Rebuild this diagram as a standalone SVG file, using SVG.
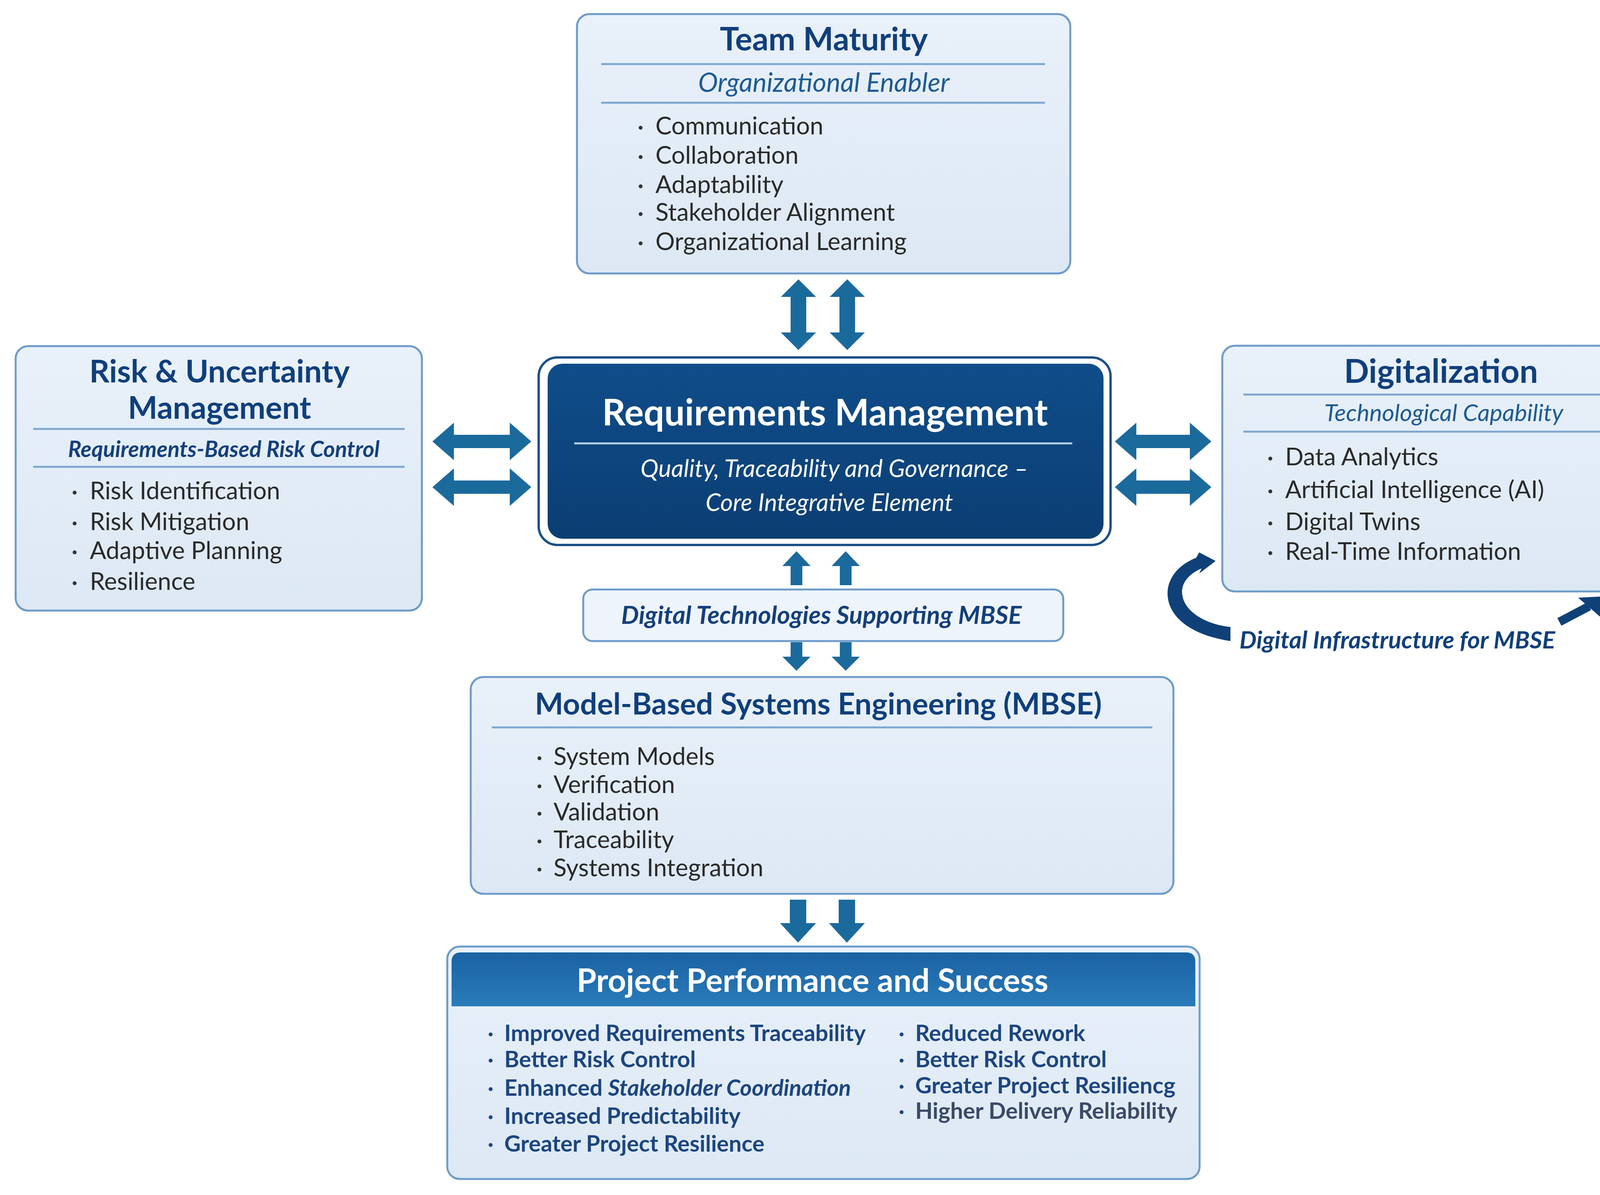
<svg xmlns="http://www.w3.org/2000/svg" width="4306" height="3059" viewBox="0 0 4306 3059">
<defs>
<linearGradient id="boxGrad" x1="0" y1="0" x2="0" y2="1">
<stop offset="0" stop-color="#e9f1fa"/>
<stop offset="1" stop-color="#dce8f4"/>
</linearGradient>
<linearGradient id="rmGrad" x1="0" y1="0" x2="0" y2="1">
<stop offset="0" stop-color="#0f4d8a"/>
<stop offset="1" stop-color="#0b3e73"/>
</linearGradient>
<linearGradient id="hdrGrad" x1="0" y1="0" x2="0" y2="1">
<stop offset="0" stop-color="#1b62a3"/>
<stop offset="1" stop-color="#2a7bba"/>
</linearGradient>
<style>
.box{fill:url(#boxGrad);stroke:#6f9bc8;stroke-width:5}
.div{stroke:#7ea6cf;stroke-width:5}
.title{font-family:Lato,"Liberation Sans",sans-serif;font-weight:700;fill:#0f3f7c;text-anchor:middle}
.sub{font-family:Lato,"Liberation Sans",sans-serif;font-style:italic;fill:#1d5a93;text-anchor:middle}
.subb{font-family:Lato,"Liberation Sans",sans-serif;font-style:italic;font-weight:700;fill:#143f7a;text-anchor:middle}
.item{font-family:Lato,"Liberation Sans",sans-serif;font-size:62px;fill:#2a2a2a}
.pitem{font-family:Lato,"Liberation Sans",sans-serif;font-size:58px;font-weight:700;fill:#1c4580}
.dot{fill:#333}
.pdot{fill:#1c4580}
.arr{fill:#1b6a9c}
.navy{fill:#0f4078}
</style>
</defs>
<rect width="4306" height="3059" fill="#ffffff"/>

<g id="connectors">
<polygon class="arr" points="2044,715 2089,760 2064,760 2064,851 2089,851 2044,896 1999,851 2024,851 2024,760 1999,760"/>
<polygon class="arr" points="2169,715 2214,760 2189,760 2189,851 2214,851 2169,896 2124,851 2149,851 2149,760 2124,760"/>
<polygon class="arr" points="1107,1130 1162,1082 1162,1113 1305,1113 1305,1082 1360,1130 1305,1178 1305,1147 1162,1147 1162,1178"/>
<polygon class="arr" points="1107,1247 1162,1199 1162,1230 1305,1230 1305,1199 1360,1247 1305,1295 1305,1264 1162,1264 1162,1295"/>
<polygon class="arr" points="2854,1130 2909,1082 2909,1113 3046,1113 3046,1082 3101,1130 3046,1178 3046,1147 2909,1147 2909,1178"/>
<polygon class="arr" points="2854,1247 2909,1199 2909,1230 3046,1230 3046,1199 3101,1247 3046,1295 3046,1264 2909,1264 2909,1295"/>
<polygon class="arr" points="2039,1411 2075,1449 2054,1449 2054,1498 2024,1498 2024,1449 2003,1449"/>
<polygon class="arr" points="2165,1411 2201,1449 2180,1449 2180,1498 2150,1498 2150,1449 2129,1449"/>
<polygon class="arr" points="2024,1644 2054,1644 2054,1681 2075,1681 2039,1717 2003,1681 2024,1681"/>
<polygon class="arr" points="2150,1644 2180,1644 2180,1681 2201,1681 2165,1717 2129,1681 2150,1681"/>
<polygon class="arr" points="2022,2303 2064,2303 2064,2363 2089,2363 2043,2413 1997,2363 2022,2363"/>
<polygon class="arr" points="2147,2303 2189,2303 2189,2363 2214,2363 2168,2413 2122,2363 2147,2363"/>
<path class="navy" d="M3150,1641 C3040,1625 2980,1570 2990,1505 C2998,1465 3030,1440 3062,1428 L3070,1414 L3112,1436 L3070,1468 L3076,1455 C3050,1466 3028,1485 3026,1512 C3024,1560 3080,1598 3150,1605 Z"/>
<path d="M3992,1592 L4068,1552" fill="none" stroke="#0f4078" stroke-width="22"/>
<polygon class="navy" points="4040,1530 4100,1527 4100,1582"/>
</g>

<g id="team-maturity">
<rect class="box" x="1477" y="36" width="1263" height="664" rx="32"/>
<text class="title" x="2109" y="129" font-size="82">Team Maturity</text>
<line class="div" x1="1539" y1="164" x2="2675" y2="164"/>
<text class="sub" x="2109" y="235" font-size="68">Organizational Enabler</text>
<line class="div" x1="1539" y1="263" x2="2675" y2="263"/>
<circle class="dot" cx="1640" cy="327" r="5"/>
<circle class="dot" cx="1640" cy="402" r="5"/>
<circle class="dot" cx="1640" cy="477" r="5"/>
<circle class="dot" cx="1640" cy="548" r="5"/>
<circle class="dot" cx="1640" cy="623" r="5"/>
<text class="item" x="1678" y="344">Communication</text>
<text class="item" x="1678" y="419">Collaboration</text>
<text class="item" x="1678" y="494">Adaptability</text>
<text class="item" x="1678" y="565">Stakeholder Alignment</text>
<text class="item" x="1678" y="640">Organizational Learning</text>
</g>

<g id="risk-uncertainty">
<rect class="box" x="40" y="886" width="1040" height="677" rx="32"/>
<text class="title" x="562" y="979" font-size="80">Risk &amp; Uncertainty</text>
<text class="title" x="562" y="1072" font-size="80">Management</text>
<line class="div" x1="85" y1="1098" x2="1036" y2="1098"/>
<text class="subb" x="573" y="1170" font-size="57">Requirements-Based Risk Control</text>
<line class="div" x1="85" y1="1195" x2="1036" y2="1195"/>
<circle class="dot" cx="191" cy="1261" r="5"/>
<circle class="dot" cx="191" cy="1340" r="5"/>
<circle class="dot" cx="191" cy="1414" r="5"/>
<circle class="dot" cx="191" cy="1493" r="5"/>
<text class="item" x="230" y="1278">Risk Identification</text>
<text class="item" x="230" y="1357">Risk Mitigation</text>
<text class="item" x="230" y="1431">Adaptive Planning</text>
<text class="item" x="230" y="1510">Resilience</text>
</g>

<g id="requirements-management">
<rect x="1379" y="915" width="1464" height="480" rx="48" fill="#ffffff" stroke="#1c4f86" stroke-width="6"/>
<rect x="1402" y="931" width="1423" height="448" rx="38" fill="url(#rmGrad)"/>
<text class="title" x="2112" y="1089" font-size="93" style="fill:#ffffff">Requirements Management</text>
<line x1="1470" y1="1135" x2="2745" y2="1135" stroke="#b9cfe6" stroke-width="5"/>
<text class="sub" x="2136" y="1221" font-size="62" style="fill:#ffffff">Quality, Traceability and Governance –</text>
<text class="sub" x="2123" y="1308" font-size="62" style="fill:#ffffff">Core Integrative Element</text>
</g>

<g id="digitalization">
<rect class="box" x="3129" y="885" width="1139" height="629" rx="32"/>
<text class="title" x="3689" y="980" font-size="84">Digitalization</text>
<line class="div" x1="3183" y1="1010" x2="4209" y2="1010"/>
<text class="sub" x="3696" y="1078" font-size="61">Technological Capability</text>
<line class="div" x1="3183" y1="1105" x2="4209" y2="1105"/>
<circle class="dot" cx="3252" cy="1174" r="5"/>
<circle class="dot" cx="3252" cy="1258" r="5"/>
<circle class="dot" cx="3252" cy="1340" r="5"/>
<circle class="dot" cx="3252" cy="1416" r="5"/>
<text class="item" x="3290" y="1191">Data Analytics</text>
<text class="item" x="3290" y="1275">Artificial Intelligence (AI)</text>
<text class="item" x="3290" y="1357">Digital Twins</text>
<text class="item" x="3290" y="1433">Real-Time Information</text>
</g>

<g id="digital-infrastructure-label">
<text class="subb" x="3173" y="1660" font-size="62" style="text-anchor:start;fill:#0f3f7c">Digital Infrastructure for MBSE</text>
</g>

<g id="digital-technologies">
<rect class="box" x="1493" y="1509" width="1229" height="132" rx="24" style="fill:#eef4fb"/>
<text class="subb" x="2103" y="1597" font-size="64">Digital Technologies Supporting MBSE</text>
</g>

<g id="mbse">
<rect class="box" x="1205" y="1733" width="1799" height="555" rx="32"/>
<text class="title" x="2095" y="1829" font-size="77">Model-Based Systems Engineering (MBSE)</text>
<line class="div" x1="1259" y1="1862" x2="2950" y2="1862"/>
<circle class="dot" cx="1381" cy="1941" r="5"/>
<circle class="dot" cx="1381" cy="2013" r="5"/>
<circle class="dot" cx="1381" cy="2083" r="5"/>
<circle class="dot" cx="1381" cy="2154" r="5"/>
<circle class="dot" cx="1381" cy="2226" r="5"/>
<text class="item" x="1417" y="1958">System Models</text>
<text class="item" x="1417" y="2030">Verification</text>
<text class="item" x="1417" y="2100">Validation</text>
<text class="item" x="1417" y="2171">Traceability</text>
<text class="item" x="1417" y="2243">Systems Integration</text>
</g>

<g id="project-performance">
<rect class="box" x="1145" y="2423" width="1926" height="595" rx="32"/>
<path d="M1156,2576 L1156,2462 Q1156,2438 1180,2438 L3036,2438 Q3060,2438 3060,2462 L3060,2576 Z" fill="url(#hdrGrad)"/>
<text class="title" x="2080" y="2539" font-size="82" style="fill:#ffffff">Project Performance and Success</text>
<circle class="pdot" cx="1256" cy="2648" r="5"/>
<circle class="pdot" cx="1256" cy="2715" r="5"/>
<circle class="pdot" cx="1256" cy="2788" r="5"/>
<circle class="pdot" cx="1256" cy="2860" r="5"/>
<circle class="pdot" cx="1256" cy="2931" r="5"/>
<text class="pitem" x="1291" y="2665">Improved Requirements Traceability</text>
<text class="pitem" x="1291" y="2732">Better Risk Control</text>
<text class="pitem" x="1291" y="2805">Enhanced <tspan font-style="italic">Stakeholder Coordination</tspan></text>
<text class="pitem" x="1291" y="2877">Increased Predictability</text>
<text class="pitem" x="1291" y="2948">Greater Project Resilience</text>
<circle class="pdot" cx="2308" cy="2648" r="5"/>
<circle class="pdot" cx="2308" cy="2715" r="5"/>
<circle class="pdot" cx="2308" cy="2782" r="5"/>
<circle class="pdot" cx="2308" cy="2847" r="5"/>
<text class="pitem" x="2343" y="2665">Reduced Rework</text>
<text class="pitem" x="2343" y="2732">Better Risk Control</text>
<text class="pitem" x="2343" y="2799">Greater Project Resiliencg</text>
<text class="pitem" x="2343" y="2864" style="fill:#3a4a66">Higher Delivery Reliability</text>
</g>
</svg>
